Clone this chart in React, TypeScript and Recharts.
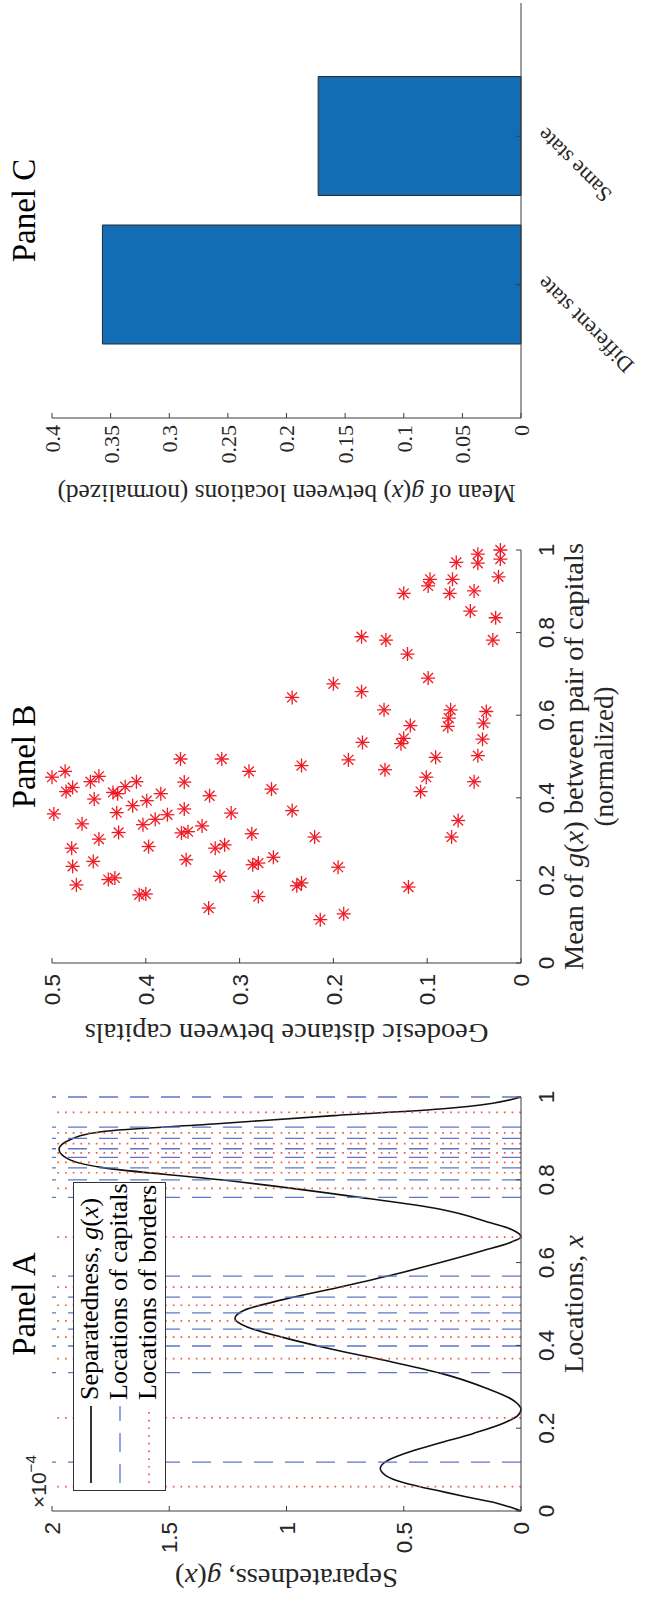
import React from 'react';
import {
  ComposedChart, Line, XAxis, YAxis, ReferenceLine, Legend, Label,
  ScatterChart, Scatter, BarChart, Bar,
} from 'recharts';

// ---------------- Panel A data ----------------
const locations = [0, 0.01, 0.02, 0.035, 0.05, 0.06, 0.07, 0.085, 0.103, 0.12, 0.14, 0.163, 0.188, 0.212, 0.23, 0.245,
  0.27, 0.296, 0.333, 0.36, 0.39, 0.42, 0.445, 0.465, 0.485, 0.51, 0.54, 0.57, 0.6, 0.629, 0.65, 0.662,
  0.68, 0.696, 0.729, 0.76, 0.8, 0.83, 0.85, 0.874, 0.895, 0.916, 0.936, 0.955, 0.971, 0.985, 1];
// separatedness g(x), in units of 1e-4
const separatedness = [0, 0.05, 0.11, 0.24, 0.36, 0.44, 0.51, 0.575, 0.6, 0.575, 0.49, 0.355, 0.2, 0.075, 0.015, 0,
  0.04, 0.145, 0.344, 0.55, 0.8, 1.02, 1.17, 1.22, 1.18, 1.02, 0.78, 0.55, 0.344, 0.16, 0.04, 0,
  0.04, 0.13, 0.344, 0.72, 1.28, 1.79, 1.93, 1.97, 1.93, 1.79, 1.28, 0.8, 0.344, 0.12, 0];
const capitalLocations = [0.118, 0.334, 0.3985, 0.4395, 0.4785, 0.5165, 0.5675, 0.7575, 0.8, 0.829, 0.854, 0.875, 0.9, 0.927, 1];
const borderLocations = [0.059, 0.225, 0.368, 0.42, 0.459, 0.497, 0.541, 0.6615, 0.7795, 0.817, 0.842, 0.865, 0.8875, 0.9135, 0.963];
const aXTicks = [0, 0.2, 0.4, 0.6, 0.8, 1];
const aYTicks = [0, 0.5, 1, 1.5, 2];

// ---------------- Panel B data ----------------
const meanSeparatedness = [1.0, 0.99, 0.968, 0.97, 0.978, 0.935, 0.929, 0.929, 0.913, 0.895, 0.895, 0.901, 0.852, 0.836,
  0.782, 0.79, 0.782, 0.748, 0.69, 0.676, 0.657, 0.643, 0.613, 0.613, 0.609, 0.593, 0.575, 0.573, 0.581, 0.544,
  0.542, 0.534, 0.531, 0.498, 0.502, 0.492, 0.494, 0.494, 0.478, 0.468, 0.464, 0.45, 0.464, 0.439, 0.452, 0.425,
  0.415, 0.45, 0.439, 0.415, 0.427, 0.439, 0.413, 0.41, 0.397, 0.41, 0.438, 0.393, 0.405, 0.421, 0.361, 0.364,
  0.381, 0.359, 0.373, 0.363, 0.369, 0.345, 0.337, 0.335, 0.348, 0.315, 0.318, 0.332, 0.316, 0.3, 0.278, 0.282,
  0.278, 0.286, 0.313, 0.305, 0.305, 0.234, 0.246, 0.25, 0.189, 0.202, 0.206, 0.21, 0.238, 0.242, 0.256, 0.232,
  0.187, 0.194, 0.184, 0.165, 0.167, 0.161, 0.133, 0.119, 0.105];
const geodesicDistance = [0.022, 0.046, 0.046, 0.069, 0.022, 0.024, 0.097, 0.073, 0.099, 0.125, 0.076, 0.05, 0.054, 0.027,
  0.03, 0.17, 0.144, 0.121, 0.099, 0.2, 0.17, 0.244, 0.146, 0.075, 0.037, 0.077, 0.118, 0.078, 0.04, 0.125,
  0.041, 0.169, 0.128, 0.091, 0.046, 0.184, 0.363, 0.319, 0.234, 0.145, 0.29, 0.5, 0.486, 0.459, 0.45, 0.478,
  0.485, 0.101, 0.05, 0.107, 0.422, 0.41, 0.435, 0.43, 0.455, 0.384, 0.359, 0.399, 0.332, 0.266, 0.498, 0.431,
  0.414, 0.377, 0.359, 0.309, 0.244, 0.067, 0.468, 0.403, 0.39, 0.362, 0.355, 0.34, 0.429, 0.45, 0.479, 0.397,
  0.326, 0.316, 0.287, 0.22, 0.074, 0.478, 0.456, 0.357, 0.474, 0.44, 0.433, 0.321, 0.286, 0.28, 0.264, 0.195,
  0.239, 0.234, 0.12, 0.407, 0.4, 0.28, 0.333, 0.189, 0.214];
const bXTicks = [0, 0.2, 0.4, 0.6, 0.8, 1];
const bYTicks = [0, 0.1, 0.2, 0.3, 0.4, 0.5];

// ---------------- Panel C data ----------------
const barCategories = ['Different state', 'Same state'];
const barValues = [0.357, 0.173];
const cYTicks = [0, 0.05, 0.1, 0.15, 0.2, 0.25, 0.3, 0.35, 0.4];

// ---------------- styles ----------------
const SERIF = '"Liberation Serif", "Times New Roman", serif';
const SANS = '"Liberation Sans", Arial, sans-serif';
const AXIS = '#3c3c3c';
const TXT = '#262626';
const TL = 5;
const CAPITAL_COLOR = '#6275c6';
const BORDER_COLOR = '#ee5a45';
const STAR_COLOR = '#f01a24';
const BAR_COLOR = '#136db5';

const leftTick = (font: string, size: number, gap: number) => (p: any) => (
  <g>
    <line x1={p.x} y1={p.y} x2={p.x + TL} y2={p.y} stroke={AXIS} />
    <text x={p.x - gap} y={p.y} dy="0.36em" textAnchor="end" fontFamily={font} fontSize={size} fill={TXT}>
      {String(p.payload.value)}
    </text>
  </g>
);
const bottomTick = (font: string, size: number, base: number) => (p: any) => (
  <g>
    <line x1={p.x} y1={p.y} x2={p.x} y2={p.y - TL} stroke={AXIS} />
    <text x={p.x} y={p.y + base} textAnchor="middle" fontFamily={font} fontSize={size} fill={TXT}>
      {String(p.payload.value)}
    </text>
  </g>
);
const topTick = (p: any) => <line x1={p.x} y1={p.y} x2={p.x} y2={p.y + TL} stroke={AXIS} />;
const rightTick = (p: any) => <line x1={p.x} y1={p.y} x2={p.x - TL} y2={p.y} stroke={AXIS} />;
const catTick = (p: any) => (
  <g>
    <line x1={p.x} y1={p.y} x2={p.x} y2={p.y - TL} stroke={AXIS} />
    <text transform={`translate(${p.x + 10},${p.y + 25}) rotate(-45)`} textAnchor="end" fontFamily={SERIF} fontSize={22} fill={TXT}>
      {p.payload.value}
    </text>
  </g>
);

const titleText = (cx: number, text: string) => (
  <text x={cx} y={35} textAnchor="middle" fontFamily={SERIF} fontSize={33} fill="#000">{text}</text>
);

const Asterisk = (props: any) => {
  const { cx, cy } = props;
  if (cx == null || cy == null) return <g />;
  const r = 7;
  const d = r * 0.7071;
  return (
    <g stroke={STAR_COLOR} strokeWidth={1.3}>
      <line x1={cx - r} y1={cy} x2={cx + r} y2={cy} />
      <line x1={cx} y1={cy - r} x2={cx} y2={cy + r} />
      <line x1={cx - d} y1={cy - d} x2={cx + d} y2={cy + d} />
      <line x1={cx - d} y1={cy + d} x2={cx + d} y2={cy - d} />
    </g>
  );
};

const legendContent = () => (
  <svg width={310} height={94} style={{ display: 'block', overflow: 'visible' }}>
    <rect x={0.5} y={0.5} width={308} height={92} fill="#fff" stroke="#333" strokeWidth={1} />
    <line x1={8} x2={85} y1={18} y2={18} stroke="#000" strokeWidth={1.6} />
    <text x={91} y={25} fontFamily={SERIF} fontSize={26} fill="#000">
      Separatedness, <tspan fontStyle="italic">g</tspan>(<tspan fontStyle="italic">x</tspan>)
    </text>
    <line x1={8} x2={85} y1={47} y2={47} stroke={CAPITAL_COLOR} strokeWidth={1.3} strokeDasharray="19 12" />
    <text x={91} y={54} fontFamily={SERIF} fontSize={26} fill="#000">Locations of capitals</text>
    <line x1={8} x2={85} y1={76} y2={76} stroke={BORDER_COLOR} strokeWidth={1.7} strokeDasharray="1.7 6" />
    <text x={91} y={83} fontFamily={SERIF} fontSize={26} fill="#000">Locations of borders</text>
  </svg>
);

function PanelA() {
  const data = locations.map((x, i) => ({ x, g: separatedness[i] }));
  return (
    <ComposedChart width={540} height={647} data={data} margin={{ top: 52, right: 36, bottom: 66, left: 30 }}>
      <XAxis dataKey="x" type="number" domain={[0, 1]} ticks={aXTicks} interval={0} height={60}
        tickSize={0} tickMargin={0} axisLine={{ stroke: AXIS }} tick={bottomTick(SANS, 22.5, 33)}>
        <Label content={() => (
          <text x={297} y={583} textAnchor="middle" fontFamily={SERIF} fontSize={27} fill={TXT} textLength={138} lengthAdjust="spacingAndGlyphs">
            Locations, <tspan fontStyle="italic">x</tspan>
          </text>
        )} />
      </XAxis>
      <XAxis xAxisId="top" orientation="top" type="number" domain={[0, 1]} ticks={aXTicks} interval={0} height={0}
        tickSize={0} tickMargin={0} axisLine={{ stroke: AXIS }} tick={topTick} />
      <YAxis type="number" domain={[0, 2]} ticks={aYTicks} interval={0} width={60}
        tickSize={0} tickMargin={0} axisLine={{ stroke: AXIS }} tick={leftTick(SANS, 22.5, 11)}>
        <Label content={() => (
          <g>
            {titleText(297, 'Panel A')}
            <text transform="translate(32,286.5) rotate(-90)" textAnchor="middle" fontFamily={SERIF} fontSize={27} fill={TXT} textLength={223} lengthAdjust="spacingAndGlyphs">
              Separatedness, <tspan fontStyle="italic">g</tspan>(<tspan fontStyle="italic">x</tspan>)
            </text>
            <text x={93} y={46} fontFamily={SANS} fontSize={21} fill={TXT}>
              ×10<tspan fontSize={15} dy={-10}>−4</tspan>
            </text>
          </g>
        )} />
      </YAxis>
      <YAxis yAxisId="right" orientation="right" type="number" domain={[0, 2]} ticks={aYTicks} interval={0} width={0}
        tickSize={0} tickMargin={0} axisLine={{ stroke: AXIS }} tick={rightTick} />
      <Line dataKey="g" type="monotone" stroke="#111" strokeWidth={1.6} dot={false} isAnimationActive={false} />
      {capitalLocations.map((c, i) => (
        <ReferenceLine key={'c' + i} x={c} stroke={CAPITAL_COLOR} strokeWidth={1.3} strokeDasharray="19 12" />
      ))}
      {borderLocations.map((b, i) => (
        <ReferenceLine key={'b' + i} x={b} stroke={BORDER_COLOR} strokeWidth={1.7} strokeDasharray="1.7 6" />
      ))}
      <Legend layout="vertical" align="center" verticalAlign="middle" content={legendContent}
        wrapperStyle={{ left: 110, top: 73, width: 310, height: 94, margin: 0, padding: 0 }} />
    </ComposedChart>
  );
}

function PanelB() {
  const data = meanSeparatedness.map((x, i) => ({ x, y: geodesicDistance[i] }));
  return (
    <ScatterChart width={540} height={647} margin={{ top: 52, right: 29, bottom: 66, left: 38 }}>
      <XAxis dataKey="x" type="number" domain={[0, 1]} ticks={bXTicks} interval={0} height={60}
        tickSize={0} tickMargin={0} axisLine={{ stroke: AXIS }} tick={bottomTick(SANS, 22.5, 33)}>
        <Label content={() => (
          <g>
            <text x={304.5} y={583} textAnchor="middle" fontFamily={SERIF} fontSize={27} fill={TXT} textLength={427} lengthAdjust="spacingAndGlyphs">
              Mean of <tspan fontStyle="italic">g</tspan>(<tspan fontStyle="italic">x</tspan>) between pair of capitals
            </text>
            <text x={304.5} y={613} textAnchor="middle" fontFamily={SERIF} fontSize={27} fill={TXT} textLength={140} lengthAdjust="spacingAndGlyphs">
              (normalized)
            </text>
          </g>
        )} />
      </XAxis>
      <XAxis xAxisId="top" orientation="top" type="number" domain={[0, 1]} ticks={bXTicks} interval={0} height={0}
        tickSize={0} tickMargin={0} axisLine={{ stroke: AXIS }} tick={topTick} />
      <YAxis dataKey="y" type="number" domain={[0, 0.5]} ticks={bYTicks} interval={0} width={60}
        tickSize={0} tickMargin={0} axisLine={{ stroke: AXIS }} tick={leftTick(SANS, 22.5, 11)}>
        <Label content={() => (
          <g>
            {titleText(304.5, 'Panel B')}
            <text transform="translate(37,286.5) rotate(-90)" textAnchor="middle" fontFamily={SERIF} fontSize={27} fill={TXT} textLength={404} lengthAdjust="spacingAndGlyphs">
              Geodesic distance between capitals
            </text>
          </g>
        )} />
      </YAxis>
      <YAxis yAxisId="right" orientation="right" type="number" domain={[0, 0.5]} ticks={bYTicks} interval={0} width={0}
        tickSize={0} tickMargin={0} axisLine={{ stroke: AXIS }} tick={rightTick} />
      <Scatter data={data} shape={(p: any) => <Asterisk {...p} />} isAnimationActive={false} />
    </ScatterChart>
  );
}

function PanelC() {
  const data = barCategories.map((category, i) => ({ category, value: barValues[i] }));
  return (
    <BarChart width={521} height={647} data={data} margin={{ top: 52, right: 3, bottom: 66, left: 43 }}>
      <XAxis dataKey="category" padding={{ left: 59, right: 59 }} interval={0} height={60}
        tickSize={0} tickMargin={0} axisLine={{ stroke: AXIS }} tick={catTick} />
      <XAxis xAxisId="top" orientation="top" dataKey="category" padding={{ left: 59, right: 59 }} interval={0} height={0}
        tickSize={0} tickMargin={0} axisLine={{ stroke: AXIS }} tick={topTick} />
      <YAxis type="number" domain={[0, 0.4]} ticks={cYTicks} interval={0} width={60}
        tickSize={0} tickMargin={0} axisLine={{ stroke: AXIS }} tick={leftTick(SERIF, 22, 7)}>
        <Label content={() => (
          <g>
            {titleText(310.5, 'Panel C')}
            <text transform="translate(36,286.5) rotate(-90)" textAnchor="middle" fontFamily={SERIF} fontSize={25} fill={TXT} textLength={458} lengthAdjust="spacingAndGlyphs">
              Mean of <tspan fontStyle="italic">g</tspan>(<tspan fontStyle="italic">x</tspan>) between locations (normalized)
            </text>
          </g>
        )} />
      </YAxis>
      <YAxis yAxisId="right" orientation="right" type="number" domain={[0, 0.4]} ticks={cYTicks} interval={0} width={0}
        tickSize={0} tickMargin={0} axisLine={{ stroke: AXIS }} tick={rightTick} />
      <Bar dataKey="value" fill={BAR_COLOR} stroke="#2a2a2a" strokeWidth={1} barSize={119} isAnimationActive={false} />
    </BarChart>
  );
}

export default function App() {
  return (
    <div style={{ position: 'absolute', left: 0, top: 0, width: 647, height: 1601, overflow: 'hidden', background: '#fff' }}>
      <div style={{
        position: 'absolute', left: 0, top: 0, width: 1601, height: 647,
        transformOrigin: '0 0', transform: 'translate(0px, 1601px) rotate(-90deg)',
      }}>
        <div style={{ position: 'absolute', left: 0, top: 0 }}><PanelA /></div>
        <div style={{ position: 'absolute', left: 540, top: 0 }}><PanelB /></div>
        <div style={{ position: 'absolute', left: 1080, top: 0 }}><PanelC /></div>
      </div>
    </div>
  );
}
